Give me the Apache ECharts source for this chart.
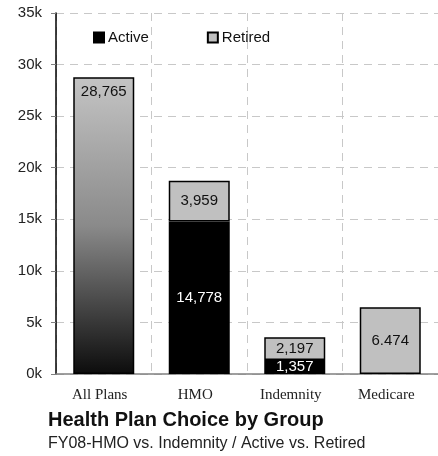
<!DOCTYPE html>
<html>
<head>
<meta charset="utf-8">
<script src="https://cdn.jsdelivr.net/npm/echarts@6/dist/echarts.min.js"></script>
<style>
  html, body { margin: 0; padding: 0; background: #fff; }
  #chart { width: 438px; height: 456px; }
</style>
</head>
<body>
<div id="chart"></div>
<script>
// Enrollment by health plan group
const categories = ['All Plans', 'HMO', 'Indemnity', 'Medicare'];
const totalValues = [28765, null, null, null];
const activeValues = [null, 14778, 1357, null];
const retiredValues = [null, 3959, 2197, 6474];
const totalLabels = ['28,765', '', '', ''];
const activeLabels = ['', '14,778', '1,357', ''];
const retiredLabels = ['', '3,959', '2,197', '6.474'];
const yTicks = [0, 5000, 10000, 15000, 20000, 25000, 30000, 35000];

const sans = 'Liberation Sans, Arial, sans-serif';
const labelFont = { fontFamily: sans, fontSize: 15 };

const chart = echarts.init(document.getElementById('chart'), null, { renderer: 'canvas' });

chart.setOption({
  animation: false,
  backgroundColor: '#fff',
  title: [
    {
      text: 'Health Plan Choice by Group',
      left: 43, top: 405,
      textStyle: { fontFamily: sans, fontSize: 20, fontWeight: 'bold', color: '#111' }
    },
    {
      text: 'FY08-HMO vs. Indemnity / Active vs. Retired',
      left: 43, top: 431,
      textStyle: { fontFamily: sans, fontSize: 16, fontWeight: 'normal', color: '#222' }
    }
  ],
  legend: {
    data: ['Active', 'Retired'],
    left: 88, top: 25,
    itemWidth: 10, itemHeight: 10,
    itemGap: 58,
    icon: 'rect',
    textStyle: { fontFamily: sans, fontSize: 15, color: '#111', padding: [0, 0, 0, -1] }
  },
  grid: { left: 56, right: 0, top: 13, bottom: 82, containLabel: false },
  xAxis: {
    type: 'category',
    data: categories,
    axisLine: { lineStyle: { color: '#808080', width: 1.5 } },
    axisTick: { show: false },
    axisLabel: {
      margin: 14,
      color: '#222',
      fontFamily: 'Liberation Serif, Times New Roman, serif',
      fontSize: 15,
      padding: [0, 8, 0, 0]
    },
    splitLine: { show: true, lineStyle: { color: '#c8c8c8', type: [8, 6] } }
  },
  yAxis: {
    type: 'value',
    min: 0, max: 35000, interval: 5000,
    axisLine: { show: true, lineStyle: { color: '#000', width: 1.5 } },
    axisTick: { show: true, length: 5, lineStyle: { color: '#808080' } },
    axisLabel: {
      margin: 14,
      color: '#222',
      fontFamily: sans,
      fontSize: 15,
      formatter: v => (yTicks.includes(v) ? (v / 1000) + 'k' : '')
    },
    splitLine: { show: true, lineStyle: { color: '#c8c8c8', type: [8, 6] } }
  },
  series: [
    {
      name: 'All Plans',
      type: 'bar',
      stack: 'plan',
      barWidth: 61,
      data: totalValues,
      itemStyle: {
        color: new echarts.graphic.LinearGradient(0, 0, 0, 1, [
          { offset: 0, color: '#c4c4c4' },
          { offset: 0.5, color: '#8a8a8a' },
          { offset: 1, color: '#0c0c0c' }
        ]),
        borderColor: '#000', borderWidth: 1.5
      },
      label: {
        show: true, position: 'insideTop', distance: 7,
        color: '#111', ...labelFont,
        formatter: p => totalLabels[p.dataIndex]
      }
    },
    {
      name: 'Active',
      type: 'bar',
      stack: 'plan',
      barWidth: 61,
      data: activeValues,
      itemStyle: { color: '#000', borderColor: '#000', borderWidth: 1.5 },
      label: {
        show: true, position: 'inside',
        color: '#fff', ...labelFont,
        formatter: p => activeLabels[p.dataIndex]
      }
    },
    {
      name: 'Retired',
      type: 'bar',
      stack: 'plan',
      barWidth: 61,
      data: retiredValues,
      itemStyle: { color: '#c0c0c0', borderColor: '#000', borderWidth: 1.5 },
      label: {
        show: true, position: 'inside',
        color: '#111', ...labelFont,
        formatter: p => retiredLabels[p.dataIndex]
      }
    }
  ]
});
</script>
</body>
</html>
